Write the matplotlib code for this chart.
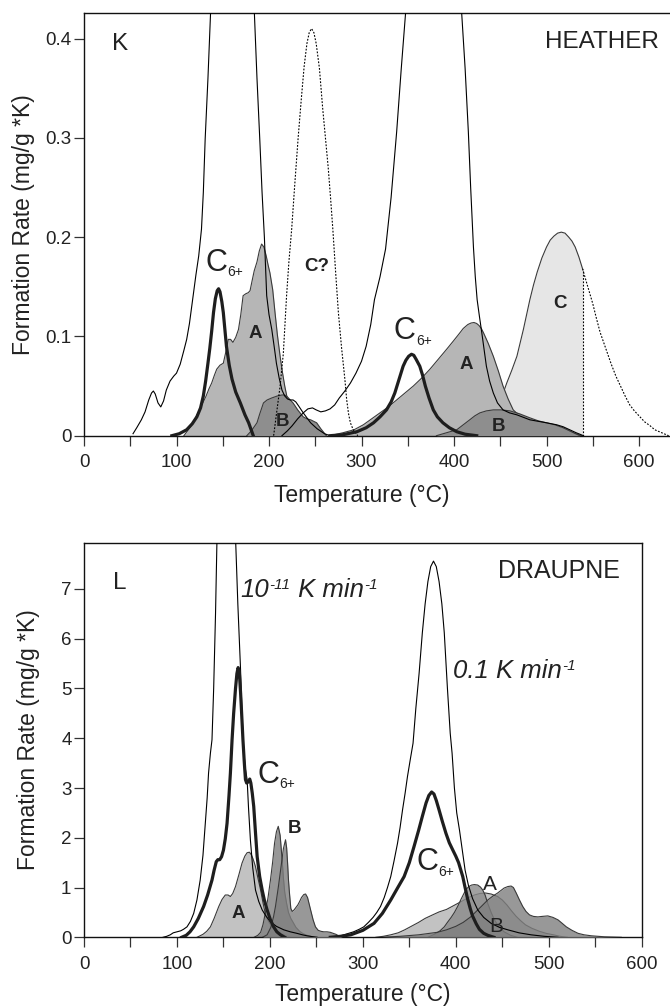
import matplotlib
matplotlib.use("Agg")
import matplotlib.pyplot as plt
from matplotlib.ticker import MultipleLocator, FixedLocator, FixedFormatter

plt.rcParams['font.family'] = ['Liberation Sans', 'DejaVu Sans']

# ============================================================
# HEATHER (K) - formation rates, mg/g*K
# ============================================================

# thin envelope, geological heating rate
k_slow_T = [53, 57, 62, 66, 70, 73, 75, 77, 80, 83, 86, 89, 93, 97, 100, 104, 108, 111, 114,
            116, 118, 121, 124, 127, 129, 131, 134, 137, 145, 160, 175, 184, 187, 190, 192.5,
            195, 197.5, 200, 203, 206, 208, 211, 214, 217, 220, 223, 226, 229, 232, 237, 241,
            245, 252, 260, 266]
k_slow_R = [0.002, 0.008, 0.016, 0.024, 0.036, 0.043, 0.045, 0.042, 0.033, 0.029, 0.035,
            0.046, 0.055, 0.060, 0.063, 0.072, 0.086, 0.097, 0.113, 0.127, 0.141, 0.162, 0.181,
            0.208, 0.245, 0.299, 0.36, 0.43, 0.56, 0.62, 0.56, 0.43, 0.36, 0.299, 0.245, 0.2,
            0.141, 0.122, 0.107, 0.087, 0.073, 0.058, 0.046, 0.040, 0.037, 0.036, 0.036, 0.034,
            0.030, 0.023, 0.018, 0.013, 0.007, 0.002, 0]

# thin envelope, lab heating rate
k_fast_T = [214, 220, 225, 231, 237, 242, 247, 251, 256, 261, 266, 271, 276, 282, 288, 294,
            300, 305, 310, 314, 320, 326, 332, 338, 343, 348, 360, 378, 396, 408, 412, 415.5,
            418, 421, 423, 425, 427.5, 430, 432.5, 435, 438.5, 442.5, 447, 453, 460, 468, 482,
            500, 511, 518, 525, 532, 540]
k_fast_R = [0, 0.005, 0.010, 0.017, 0.023, 0.027, 0.028, 0.026, 0.024, 0.025, 0.027, 0.031,
            0.038, 0.045, 0.053, 0.063, 0.075, 0.090, 0.112, 0.137, 0.160, 0.188, 0.240, 0.306,
            0.37, 0.43, 0.56, 0.62, 0.56, 0.43, 0.37, 0.306, 0.25, 0.19, 0.16, 0.137, 0.120,
            0.104, 0.087, 0.070, 0.055, 0.043, 0.033, 0.026, 0.023, 0.021, 0.016, 0.013, 0.011,
            0.009, 0.006, 0.003, 0]

# questionable C peak (dotted)
k_cq_T = [205, 212, 215.5, 219, 221.5, 224.5, 228, 231.5, 235, 238, 241, 243.5, 246, 248.5,
          251, 254.5, 258, 261, 264, 266.5, 269, 272, 275, 278.5, 282, 284, 286, 288, 291, 296]
k_cq_R = [0, 0.05, 0.083, 0.141, 0.175, 0.208, 0.255, 0.30, 0.34, 0.372, 0.395, 0.406, 0.41,
          0.406, 0.395, 0.37, 0.33, 0.30, 0.27, 0.24, 0.208, 0.165, 0.124, 0.088, 0.057, 0.036,
          0.022, 0.013, 0.006, 0]

k_c6_lo_T = [95, 103, 111, 117, 122, 126, 129, 131.5, 134, 136, 138, 140, 142, 144, 145.5,
             147, 149, 150.6, 152.5, 154, 157, 160, 164, 169, 174, 178, 183]
k_c6_lo_R = [0, 0.002, 0.006, 0.012, 0.019, 0.028, 0.040, 0.055, 0.073, 0.088, 0.105, 0.124,
             0.138, 0.146, 0.148, 0.145, 0.135, 0.124, 0.105, 0.090, 0.071, 0.057, 0.044, 0.033,
             0.021, 0.013, 0]

k_a_lo_T = [108, 112, 116, 120, 125, 129, 132, 135, 138, 141, 143.5, 147, 150.6, 153, 156,
            158.5, 161, 164, 167, 169.5, 172, 175, 177.5, 179.5, 181.5, 184, 187, 189.5, 192,
            194.5, 197, 199, 201, 204, 206.5, 209, 212, 214.5, 217, 219, 221, 224.5, 227, 230]
k_a_lo_R = [0, 0.005, 0.010, 0.017, 0.026, 0.034, 0.040, 0.047, 0.053, 0.061, 0.067, 0.071,
            0.073, 0.083, 0.097, 0.097, 0.094, 0.099, 0.107, 0.122, 0.141, 0.143, 0.144, 0.146,
            0.155, 0.166, 0.175, 0.186, 0.193, 0.190, 0.181, 0.172, 0.164, 0.147, 0.124, 0.102,
            0.080, 0.064, 0.050, 0.041, 0.033, 0.016, 0.006, 0]

k_b_lo_T = [176, 181, 187, 190, 194, 198, 203, 209, 214, 217, 220, 226, 231, 237, 241, 245,
            251.5, 256, 262]
k_b_lo_R = [0, 0.005, 0.013, 0.022, 0.033, 0.036, 0.038, 0.040, 0.041, 0.041, 0.039, 0.033,
            0.026, 0.019, 0.017, 0.016, 0.013, 0.007, 0]

k_c6_hi_T = [266, 280, 295, 305, 313, 320, 327, 332, 336, 340, 345, 348, 351, 354, 356.5, 359,
             363, 366, 369, 373, 377.6, 382, 388, 395, 403, 412, 424.5]
k_c6_hi_R = [0, 0.001, 0.004, 0.008, 0.013, 0.019, 0.026, 0.034, 0.043, 0.055, 0.070, 0.076,
             0.080, 0.082, 0.081, 0.077, 0.070, 0.061, 0.050, 0.038, 0.026, 0.019, 0.013, 0.008,
             0.004, 0.0015, 0]

k_a_hi_T = [266, 280, 292, 302, 311, 320, 329, 338, 347, 356, 365, 374, 383, 392, 399, 405,
            410, 415, 418.5, 421.6, 424.5, 427, 429.5, 431.7, 437, 442.5, 448, 453, 458.5, 464,
            467.5, 471, 480, 489, 500, 511, 518, 525, 531, 538]
k_a_hi_R = [0, 0.003, 0.006, 0.011, 0.017, 0.023, 0.029, 0.036, 0.043, 0.050, 0.058, 0.067,
            0.077, 0.087, 0.095, 0.102, 0.108, 0.112, 0.1135, 0.114, 0.113, 0.111, 0.108, 0.104,
            0.093, 0.080, 0.065, 0.050, 0.037, 0.026, 0.023, 0.021, 0.017, 0.014, 0.011, 0.009,
            0.007, 0.004, 0.002, 0]

k_b_hi_T = [381, 392, 403, 410, 417, 422.5, 428, 435, 442.5, 451, 460.5, 471, 482, 491, 500,
            509, 518, 527, 536]
k_b_hi_R = [0, 0.003, 0.006, 0.011, 0.016, 0.020, 0.023, 0.025, 0.026, 0.026, 0.025, 0.022,
            0.018, 0.015, 0.013, 0.011, 0.008, 0.004, 0]

# C peak, shaded up to the cut-off, dotted beyond it
k_c_T = [420, 428, 435, 441, 446, 452, 457, 462.5, 468, 475, 482, 486, 490, 495, 500, 504,
         508, 512, 516, 520, 524, 527.5, 531, 535, 539]
k_c_R = [0.003, 0.007, 0.012, 0.019, 0.028, 0.040, 0.053, 0.066, 0.080, 0.107, 0.137, 0.152,
         0.165, 0.179, 0.190, 0.197, 0.201, 0.204, 0.205, 0.204, 0.200, 0.196, 0.190, 0.180, 0.168]
k_c_tail_T = [539, 544, 550, 554, 558, 564, 570, 575, 580, 585, 590, 595, 600, 606, 612, 617,
              622, 627, 632]
k_c_tail_R = [0.168, 0.152, 0.133, 0.118, 0.104, 0.088, 0.072, 0.060, 0.050, 0.040, 0.031,
              0.025, 0.020, 0.014, 0.010, 0.006, 0.004, 0.002, 0]
k_c_cut = 539

# ============================================================
# DRAUPNE (L) - formation rates, mg/g*K
# ============================================================

l_slow_T = [85, 89, 92.8, 96, 100, 104, 107, 110.8, 114.5, 118, 121.5, 125, 128, 130.5, 132.5,
            134, 136, 137.7, 139.5, 141.5, 143, 146, 150, 153, 156, 160, 163.2, 165.5, 168.3,
            170, 171.8, 173.5, 175.5, 177, 179, 181.5, 184.5, 188, 191.7, 196, 200.6, 207, 215,
            222, 229, 235, 240, 245, 251]
l_slow_R = [0, 0.02, 0.05, 0.09, 0.11, 0.13, 0.16, 0.21, 0.32, 0.48, 0.75, 1.15, 1.65, 2.29,
            2.8, 3.3, 3.7, 3.97, 5.0, 6.5, 7.94, 9.3, 10.1, 10.3, 10.1, 9.3, 7.94, 6.7, 5.44,
            4.5, 3.77, 3.4, 3.17, 2.6, 1.96, 1.4, 0.95, 0.72, 0.55, 0.42, 0.31, 0.22, 0.15,
            0.11, 0.08, 0.05, 0.03, 0.015, 0]

l_c6_lo_T = [105, 110, 114, 118, 123, 128.7, 133, 137.7, 140, 142.3, 144, 146, 148, 150, 152,
             153.9, 156, 157.5, 159.3, 161, 163, 164.5, 165.8, 167, 168.5, 170, 171, 172.5,
             173.7, 175, 176.5, 178.3, 179.5, 181, 182.6, 184.5, 186.3, 189, 191.7, 194, 197,
             200.6, 204, 207.5, 211.4, 216]
l_c6_lo_R = [0, 0.04, 0.11, 0.21, 0.38, 0.62, 0.85, 1.15, 1.35, 1.52, 1.56, 1.56, 1.62, 1.75,
             1.98, 2.29, 2.85, 3.3, 3.97, 4.5, 5.0, 5.3, 5.42, 5.35, 4.9, 4.35, 3.97, 3.5, 3.17,
             3.1, 3.12, 3.18, 3.1, 2.9, 2.63, 2.1, 1.62, 1.22, 0.95, 0.75, 0.55, 0.35, 0.21,
             0.11, 0.05, 0]

l_a_lo_T = [121.6, 128, 132, 136, 140, 145, 148.5, 152, 155, 157.5, 160, 163, 166.5, 170, 173,
            175.5, 178, 180, 182, 184.5, 187, 190, 192.5, 195, 198.5, 202.5, 208, 215, 222]
l_a_lo_R = [0, 0.06, 0.12, 0.21, 0.38, 0.62, 0.76, 0.85, 0.85, 0.82, 0.88, 1.02, 1.25, 1.49,
            1.63, 1.70, 1.71, 1.66, 1.57, 1.42, 1.20, 0.95, 0.70, 0.48, 0.32, 0.21, 0.11, 0.05, 0]

l_b1_lo_T = [183, 187, 190, 192.5, 195, 198, 200.6, 203, 205, 207, 209, 211, 213, 214.5, 216,
             218, 220, 222.5, 225, 228, 232, 236, 240, 245, 250]
l_b1_lo_R = [0, 0.04, 0.10, 0.25, 0.48, 0.80, 1.15, 1.52, 1.89, 2.12, 2.23, 2.05, 1.60, 1.20,
             0.90, 0.68, 0.50, 0.38, 0.30, 0.20, 0.12, 0.07, 0.04, 0.015, 0]

l_b2_lo_T = [192, 197, 201, 204, 206, 209, 212, 214.5, 216.8, 218, 219, 220, 221, 222.5, 224,
             226, 228, 230, 232, 234, 236.5, 238.4, 240.5, 243.8, 246.5, 249, 252, 255, 258,
             261.5, 265, 268, 271, 274, 278]
l_b2_lo_R = [0, 0.05, 0.20, 0.42, 0.62, 1.00, 1.42, 1.78, 1.96, 1.80, 1.50, 1.15, 0.90, 0.58,
             0.52, 0.55, 0.60, 0.65, 0.72, 0.80, 0.86, 0.87, 0.80, 0.55, 0.35, 0.21, 0.14, 0.12,
             0.11, 0.11, 0.10, 0.08, 0.06, 0.03, 0]

l_fast_T = [265, 270, 276, 283, 290, 296, 301, 306, 311, 315, 319, 323, 326.5, 330, 333.5,
            337.3, 340, 342.7, 345.5, 348, 351, 354, 357, 360.5, 364, 367, 370, 373, 376, 379,
            382, 385, 387.6, 391, 394, 396, 398.5, 401, 404, 407, 410, 413.5, 418, 423.6, 430,
            438, 447, 456, 468, 481, 495, 510]
l_fast_R = [0, 0.015, 0.03, 0.07, 0.11, 0.16, 0.21, 0.30, 0.40, 0.50, 0.62, 0.80, 1.00, 1.22,
            1.53, 1.89, 2.20, 2.56, 2.90, 3.23, 3.57, 3.9, 4.6, 5.3, 6.12, 6.7, 7.15, 7.45, 7.56,
            7.45, 7.15, 6.7, 6.12, 5.0, 4.1, 3.7, 3.0, 2.5, 2.15, 1.75, 1.35, 1.05, 0.78, 0.55,
            0.40, 0.28, 0.20, 0.15, 0.09, 0.05, 0.02, 0]

l_c6_hi_T = [265, 276, 287, 300, 312, 321, 330, 337, 344.4, 350, 355, 360, 364, 368, 371, 374,
             376.5, 379, 382, 385.5, 389.4, 393, 396.6, 400, 403, 407.5, 410, 412.6, 415.5, 418,
             422, 425.4, 430, 434.4, 441]
l_c6_hi_R = [0, 0.02, 0.05, 0.14, 0.28, 0.48, 0.75, 0.98, 1.22, 1.50, 1.82, 2.15, 2.43, 2.70,
             2.85, 2.92, 2.88, 2.75, 2.56, 2.33, 2.09, 1.90, 1.76, 1.63, 1.50, 1.22, 1.00, 0.78,
             0.58, 0.43, 0.27, 0.16, 0.08, 0.04, 0]

l_a_hi_T = [314, 322, 330, 338, 345, 352, 360, 367, 375, 382, 390, 395, 400, 405, 410, 415,
            420, 426, 432, 438, 445, 450, 455, 460, 465, 470, 475, 482, 490, 497, 505, 512, 520]
l_a_hi_R = [0, 0.02, 0.05, 0.09, 0.15, 0.22, 0.30, 0.38, 0.45, 0.51, 0.56, 0.61, 0.66, 0.71,
            0.76, 0.81, 0.85, 0.88, 0.89, 0.87, 0.82, 0.75, 0.65, 0.53, 0.42, 0.33, 0.25, 0.18,
            0.12, 0.08, 0.05, 0.02, 0]

l_m_hi_T = [370, 378, 383, 387.6, 391, 395, 398.5, 402, 405.5, 409, 411.5, 414, 417, 420, 423.6,
            426.5, 429, 431.5, 434.4, 438, 441.6, 446, 452, 459, 466]
l_m_hi_R = [0, 0.07, 0.13, 0.21, 0.30, 0.40, 0.50, 0.62, 0.76, 0.89, 0.97, 1.02, 1.05, 1.06,
            1.05, 1.01, 0.95, 0.85, 0.68, 0.50, 0.35, 0.22, 0.11, 0.04, 0]

l_b_hi_T = [320, 340, 360, 380, 390, 400, 408, 416, 422, 428, 434.4, 440, 445, 452, 456, 459.5,
            462, 465, 468.5, 472, 475.5, 479.3, 483.5, 488.3, 493, 499, 504.5, 510, 514.5, 518.9,
            525, 531.5, 538, 546, 560, 578]
l_b_hi_R = [0, 0.02, 0.05, 0.10, 0.15, 0.22, 0.30, 0.41, 0.52, 0.63, 0.75, 0.83, 0.89, 0.99,
            1.02, 1.03, 1.00, 0.89, 0.75, 0.62, 0.52, 0.45, 0.42, 0.41, 0.42, 0.43, 0.40, 0.35,
            0.28, 0.21, 0.14, 0.08, 0.05, 0.03, 0.01, 0]

k_yticks = [0, 0.1, 0.2, 0.3, 0.4]
k_yticklabels = ['0', '0.1', '0.2', '0.3', '0.4']
l_yticks = [0, 1, 2, 3, 4, 5, 6, 7]
xticks = [0, 100, 200, 300, 400, 500, 600]

TXT = '#222222'
EDGE = '#3a3a3a'


def shade(ax, T, R, color, z, alpha=1.0):
    ax.fill_between(T, R, color=color, alpha=alpha, lw=0, zorder=z)
    ax.plot(T, R, color=EDGE, lw=0.8, zorder=z + 0.1)


def thin(ax, T, R, **kw):
    ax.plot(T, R, color='black', lw=0.8, zorder=5, **kw)


def thick(ax, T, R):
    ax.plot(T, R, color='#1e1e1e', lw=2.3, zorder=6, solid_joinstyle='round')


def c6_label(ax, x, y):
    c = ax.text(x, y, 'C', fontsize=22, color=TXT, ha='left', va='baseline', zorder=8)
    ax.annotate('6+', xy=(1, 0), xycoords=c, xytext=(0, 1), textcoords='offset points',
                fontsize=10, color=TXT, ha='left', va='baseline', zorder=8)


def rate_label(ax, x, y, base, sup):
    t = ax.text(x, y, base, fontsize=18.5, style='italic', color=TXT, ha='left', va='baseline')
    s = ax.annotate(sup, xy=(1, 1), xycoords=t, xytext=(0.5, 0), textcoords='offset points',
                    fontsize=11, style='italic', color=TXT, ha='left', va='top')
    return t, s


def style_axes(ax, xmax, ymax):
    ax.set_xlim(0, xmax)
    ax.set_ylim(0, ymax)
    ax.xaxis.set_major_locator(FixedLocator(xticks))
    ax.xaxis.set_minor_locator(MultipleLocator(50))
    ax.tick_params(which='both', direction='out', length=7.5, width=0.9, color='#333333',
                   labelsize=13.5, labelcolor=TXT)
    ax.tick_params(axis='x', which='both', pad=6)
    ax.tick_params(axis='y', which='both', pad=1.5)
    for s in ax.spines.values():
        s.set_linewidth(1.0)
        s.set_color('#111111')
    ax.set_xlabel('Temperature (°C)', fontsize=16.5, color=TXT)
    ax.set_ylabel('Formation Rate (mg/g *K)', fontsize=16.5, color=TXT)


fig = plt.figure(figsize=(6.7, 10.06), dpi=100)

# ------------------------------------------------------------
# K - HEATHER
# ------------------------------------------------------------
ax1 = fig.add_axes([84 / 670, 1 - 435.7 / 1006, 1 - 84 / 670, (435.7 - 12.7) / 1006])
style_axes(ax1, 633.5, 0.426)
ax1.spines['right'].set_visible(False)
ax1.yaxis.set_major_locator(FixedLocator(k_yticks))
ax1.yaxis.set_major_formatter(FixedFormatter(k_yticklabels))

dots = (0, (1.6, 1.4))
thin(ax1, k_cq_T, k_cq_R, ls=dots)
thin(ax1, k_c_tail_T, k_c_tail_R, ls=dots)
ax1.plot([k_c_cut, k_c_cut], [0, k_c_R[-1]], color='black', lw=0.8, ls=dots, zorder=5)

shade(ax1, k_c_T, k_c_R, '#e6e6e6', 1)
shade(ax1, k_a_lo_T, k_a_lo_R, '#b6b6b6', 2)
shade(ax1, k_a_hi_T, k_a_hi_R, '#b6b6b6', 2)
shade(ax1, k_b_lo_T, k_b_lo_R, '#8e8e8e', 3)
shade(ax1, k_b_hi_T, k_b_hi_R, '#8e8e8e', 3)

thin(ax1, k_slow_T, k_slow_R)
thin(ax1, k_fast_T, k_fast_R)
thick(ax1, k_c6_lo_T, k_c6_lo_R)
thick(ax1, k_c6_hi_T, k_c6_hi_R)

ax1.text(30, 0.388, 'K', fontsize=17.5, color=TXT, ha='left', va='baseline')
ax1.text(621, 0.39, 'HEATHER', fontsize=17.5, color=TXT, ha='right', va='baseline')
c6_label(ax1, 131, 0.166)
c6_label(ax1, 335, 0.097)
bold = dict(fontsize=13.5, fontweight='bold', color=TXT, ha='center', va='baseline', zorder=8)
ax1.text(185.5, 0.0987, 'A', **bold)
ax1.text(215, 0.010, 'B', **bold)
ax1.text(251.5, 0.166, 'C?', **bold)
ax1.text(413, 0.0667, 'A', **bold)
ax1.text(448.6, 0.0043, 'B', **bold)
ax1.text(514.6, 0.129, 'C', **bold)

ax1.xaxis.set_label_coords(300 / 633.5, -0.115)
ax1.yaxis.set_label_coords(-0.083, 0.5)

# ------------------------------------------------------------
# L - DRAUPNE
# ------------------------------------------------------------
ax2 = fig.add_axes([84 / 670, 1 - 937.3 / 1006, (641.7 - 84) / 670, (937.3 - 542.7) / 1006])
style_axes(ax2, 600, 7.93)
ax2.yaxis.set_major_locator(FixedLocator(l_yticks))

shade(ax2, l_a_lo_T, l_a_lo_R, '#c2c2c2', 1)
shade(ax2, l_b1_lo_T, l_b1_lo_R, '#7f7f7f', 2, alpha=0.8)
shade(ax2, l_b2_lo_T, l_b2_lo_R, '#7f7f7f', 3, alpha=0.8)
shade(ax2, l_a_hi_T, l_a_hi_R, '#c2c2c2', 1)
shade(ax2, l_m_hi_T, l_m_hi_R, '#8a8a8a', 2, alpha=0.8)
shade(ax2, l_b_hi_T, l_b_hi_R, '#7f7f7f', 3, alpha=0.8)

thin(ax2, l_slow_T, l_slow_R)
thin(ax2, l_fast_T, l_fast_R)
thick(ax2, l_c6_lo_T, l_c6_lo_R)
thick(ax2, l_c6_hi_T, l_c6_hi_R)

ax2.text(31, 7.0, 'L', fontsize=17.5, color=TXT, ha='left', va='baseline')
ax2.text(577, 7.22, 'DRAUPNE', fontsize=18, color=TXT, ha='right', va='baseline')

t1, s1 = rate_label(ax2, 168, 6.84, '10', '-11')
k1 = ax2.annotate(' K min', xy=(1, 0), xycoords=(s1, t1), fontsize=18.5, style='italic',
                  color=TXT, ha='left', va='bottom')
ax2.annotate('-1', xy=(1, 1), xycoords=(k1, t1), xytext=(0.5, 0), textcoords='offset points',
             fontsize=11, style='italic', color=TXT, ha='left', va='top')
rate_label(ax2, 396.7, 5.21, '0.1 K min', '-1')

c6_label(ax2, 186.3, 3.11)
c6_label(ax2, 358, 1.35)
ax2.text(165.6, 0.38, 'A', **bold)
ax2.text(226, 2.09, 'B', **bold)
plain = dict(fontsize=15, color=TXT, ha='center', va='baseline', zorder=8)
ax2.text(436.5, 0.95, 'A', **plain)
ax2.text(443.4, 0.11, 'B', **plain)

ax2.xaxis.set_label_coords(0.5, -0.116)
ax2.yaxis.set_label_coords(-0.079, 0.5)

fig.savefig('out.png', dpi=100)
